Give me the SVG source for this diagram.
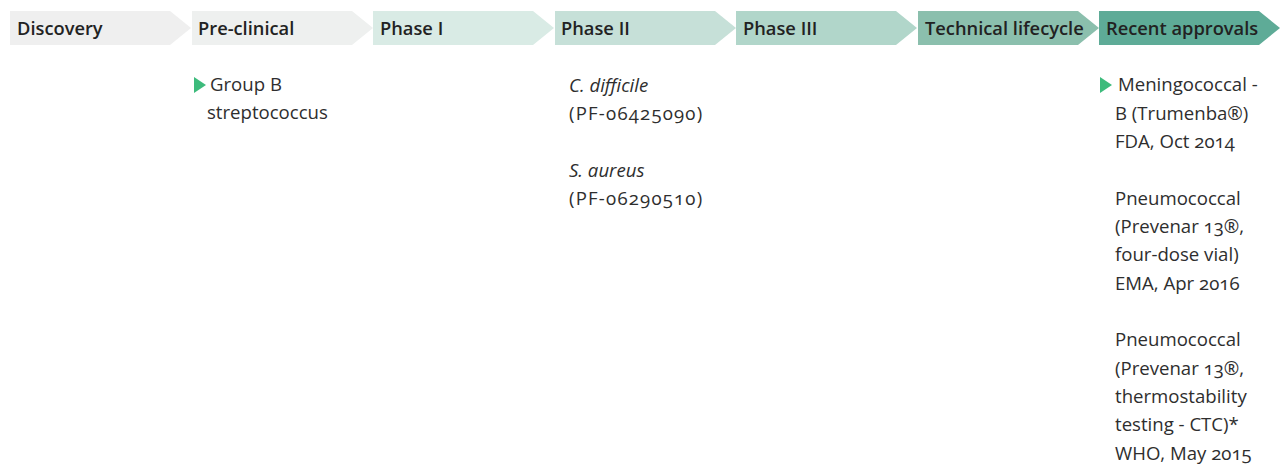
<svg xmlns="http://www.w3.org/2000/svg" width="1283" height="465" viewBox="0 0 1283 465">
<style>
.h{font-family:"Open Sans","Liberation Sans",sans-serif;font-size:18.3px;font-weight:600;fill:#222}
.t{font-family:"Open Sans","Liberation Sans",sans-serif;font-size:18.6px;fill:#2e2e2e;font-variant-numeric:oldstyle-nums}
.i{font-style:italic}
.n{letter-spacing:1.2px}
.b{fill:#3dbb7c}
</style>
<defs>
<path id="chev" d="M0 0H160L181 17L160 34H0Z"/>
</defs>
<rect width="1283" height="465" fill="#fff"/>
<g id="stage-discovery"><use href="#chev" x="10" y="11" fill="#efefef"/><text class="h" x="17" y="35">Discovery</text></g>
<g id="stage-preclinical"><use href="#chev" x="192" y="11" fill="#eef0ef"/><text class="h" x="198" y="35">Pre-clinical</text></g>
<g id="stage-phase1"><use href="#chev" x="373" y="11" fill="#d9ebe5"/><text class="h" x="380" y="35">Phase I</text></g>
<g id="stage-phase2"><use href="#chev" x="555" y="11" fill="#c6e0d8"/><text class="h" x="561" y="35">Phase II</text></g>
<g id="stage-phase3"><use href="#chev" x="736" y="11" fill="#b1d6ca"/><text class="h" x="743" y="35">Phase III</text></g>
<g id="stage-tech"><use href="#chev" x="918" y="11" fill="#8bbfad"/><text class="h" x="925" y="35">Technical lifecycle</text></g>
<g id="stage-recent"><use href="#chev" x="1099" y="11" fill="#5eab97"/><text class="h" x="1106" y="35">Recent approvals</text></g>
<g id="preclinical-items">
<path class="b" d="M194 77L206 85L194 93Z"/>
<text class="t" x="210" y="91">Group B</text>
<text class="t" x="207" y="119">streptococcus</text>
</g>
<g id="phase2-items">
<text class="t i" x="569" y="92">C. difficile</text>
<text class="t n" x="569" y="120">(PF-06425090)</text>
<text class="t i" x="569" y="177">S. aureus</text>
<text class="t n" x="569" y="205">(PF-06290510)</text>
</g>
<g id="recent-items">
<path class="b" d="M1100 77L1112 85L1100 93Z"/>
<text class="t" x="1118" y="91">Meningococcal -</text>
<text class="t" x="1115" y="120">B (Trumenba®)</text>
<text class="t" x="1115" y="148">FDA, Oct 2014</text>
<text class="t" x="1115" y="205">Pneumococcal</text>
<text class="t" x="1115" y="233">(Prevenar 13®,</text>
<text class="t" x="1115" y="261">four-dose vial)</text>
<text class="t" x="1115" y="290">EMA, Apr 2016</text>
<text class="t" x="1115" y="346">Pneumococcal</text>
<text class="t" x="1115" y="375">(Prevenar 13®,</text>
<text class="t" x="1115" y="403">thermostability</text>
<text class="t" x="1115" y="431">testing - CTC)*</text>
<text class="t" x="1115" y="460">WHO, May 2015</text>
</g>
<g id="connectors"/>
</svg>
